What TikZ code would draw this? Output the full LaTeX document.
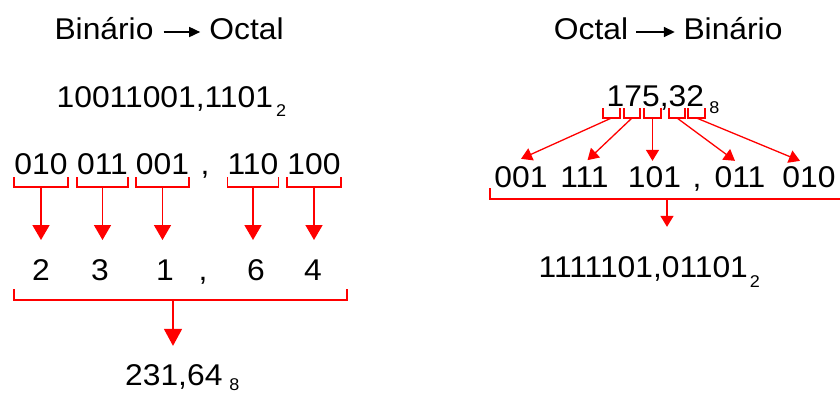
\documentclass[tikz,border=0pt]{standalone}
\usepackage{fontspec}
\setmainfont{Liberation Sans}[FakeStretch=1.06]
\usetikzlibrary{arrows.meta}

% small lowered base after a number
\newcommand{\base}[3]{\hspace{#1pt}\raisebox{-#2pt}{\fontsize{17}{17}\selectfont #3}}

\begin{document}
\begin{tikzpicture}
        [
            x = 1pt, y = -1pt,
            num/.style = {font = \fontsize{30}{36}\selectfont, inner sep = 0pt, anchor = base, text = black},
            brace/.style = {draw = red, line width = 1.6pt},
            thin brace/.style = {draw = red, line width = 1.3pt},
            down/.style = {red, line width = 1.6pt, -{Triangle[length = 15pt, width = 17pt]}},
            big down/.style = {red, line width = 1.6pt, -{Triangle[length = 17pt, width = 18pt]}},
            thin down/.style = {red, line width = 1.3pt, -{Triangle[length = 11pt, width = 13pt]}},
            title arrow/.style = {black, line width = 1.6pt, -{Triangle[length = 11pt, width = 10pt]}}
        ]
        \useasboundingbox (0,0) rectangle (840,394);

        % binario -> octal
        \node [num] (binL) at (104,39) {Binário};
        \node [num] (octL) at (246.5,39) {Octal};
        \draw [title arrow] ([xshift = 10pt, yshift = 7pt]binL.base east) -- ([xshift = -9pt, yshift = 7pt]octL.base west);

        \node [num, anchor = base west] (srcL) at (56.5,107) {10011001,1101\base{3}{9}{2}};

        \node [num] (g1) at (41,174) {010};
        \node [num] (g2) at (102.5,174) {011};
        \node [num] (g3) at (162.5,174) {001};
        \node [num] (cL) at (205,174) {,};
        \node [num] (g4) at (253,174) {110};
        \node [num] (g5) at (314,174) {100};

        \node [num] (d1) at (41,280) {2};
        \node [num] (d2) at (100,280) {3};
        \node [num] (d3) at (165,280) {1};
        \node [num] (cD) at (203,280) {,};
        \node [num] (d4) at (256,280) {6};
        \node [num] (d5) at (313,280) {4};

        \foreach \g/\d in {g1/d1, g2/d2, g3/d3, g4/d4, g5/d5} {
            \draw [brace] ([yshift = -3pt]\g.base west) -- ++(0,10) -| ([yshift = -3pt]\g.base east);
            \draw [down] ([yshift = -13pt]\g.base) -- ([yshift = 40pt]\g.base |- \d.base);
        }

        \draw [brace] (14,289) |- (347,300) -- (347,289);
        \coordinate (jL) at (173,300);
        \node [num, anchor = base west] (resL) at (125,385) {231,64\base{7}{5}{8}};
        \draw [big down] (jL) -- ([yshift = 18pt]jL |- resL.north);

        % octal -> binario
        \node [num] (octR) at (591,39) {Octal};
        \node [num] (binR) at (733,39) {Binário};
        \draw [title arrow] ([xshift = 8pt, yshift = 7pt]octR.base east) -- ([xshift = -8.5pt, yshift = 7pt]binR.base west);

        \node [num, anchor = base west] (srcR) at (606.5,106) {175,32\base{5.5}{7}{8}};

        \foreach \a/\b in {603/620, 624/640, 644/661, 669/685, 688/705}
            \draw [thin brace] (\a,108) |- (\b,118) -- (\b,108);
        \coordinate (s1) at (611.5,118);
        \coordinate (s2) at (632,118);
        \coordinate (s3) at (652.5,118);
        \coordinate (s4) at (677,118);
        \coordinate (s5) at (696.5,118);

        \node [num] (b1) at (521,187) {001};
        \node [num] (b2) at (584.5,187) {111};
        \node [num] (b3) at (654.5,187) {101};
        \node [num] (cR) at (697,187) {,};
        \node [num] (b4) at (740,187) {011};
        \node [num] (b5) at (809,187) {010};

        \draw [thin down] (s1) -- ([yshift = 7pt]b1.north);
        \draw [thin down] (s2) -- ([xshift = 3pt, yshift = 6pt]b2.north);
        \draw [thin down] (s3) -- ([yshift = 5pt]s3 |- b3.north);
        \draw [thin down] (s4) -- ([xshift = -5pt, yshift = 5pt]b4.north);
        \draw [thin down] (s5) -- ([xshift = -9pt, yshift = 5pt]b5.north);

        \draw [brace] (490,188) |- (840,199);
        \coordinate (jR) at (667,199);
        \node [num, anchor = base west] (resR) at (538.5,277) {1111101,01101\base{2}{10}{2}};
        \draw [thin down] (jR) -- ([yshift = 29pt]jR |- resR.north);
    \end{tikzpicture}
\end{document}
